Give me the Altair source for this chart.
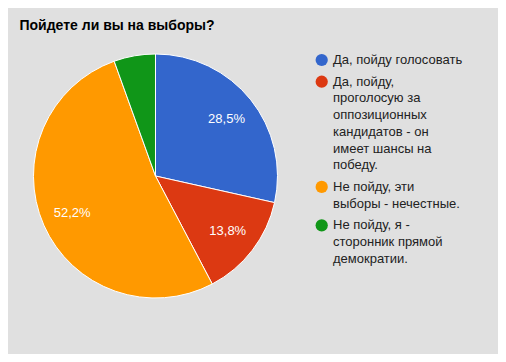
import altair as alt
import pandas as pd

title_text = "Пойдете ли вы на выборы?"
categories = [
    "Да, пойду голосовать",
    "Да, пойду, проголосую за оппозиционных кандидатов - он имеет шансы на победу.",
    "Не пойду, эти выборы - нечестные.",
    "Не пойду, я - сторонник прямой демократии.",
]
legend_lines = [
    ["Да, пойду голосовать"],
    ["Да, пойду,", "проголосую за", "оппозиционных", "кандидатов - он", "имеет шансы на", "победу."],
    ["Не пойду, эти", "выборы - нечестные."],
    ["Не пойду, я -", "сторонник прямой", "демократии."],
]
values = [28.5, 13.8, 52.2, 5.5]
slice_labels = ["28,5%", "13,8%", "52,2%", ""]
colors = ["#3366cc", "#dc3912", "#ff9900", "#109618"]

FONT = "Arial, Liberation Sans"
W, H = 490, 346
CX, CY, R = 147.5, 168, 122
LABEL_R = 91
LINE_GAP = 0.3  # extra gap between legend items, in line units

pie_df = pd.DataFrame({
    "idx": list(range(len(categories))),
    "cat": categories,
    "value": values,
    "label": slice_labels,
})

# legend rows: one row per text line, position in "line units"
rows = []
u = 0.0
for i, lines in enumerate(legend_lines):
    for j, line in enumerate(lines):
        rows.append({"idx": i, "cat": categories[i], "line": line, "u": u, "first": j == 0})
        u += 1
    u += LINE_GAP
leg_df = pd.DataFrame(rows)

color_scale = alt.Scale(domain=categories, range=colors)

base = alt.Chart(pie_df).encode(
    theta=alt.Theta("value:Q", stack=True),
    order=alt.Order("idx:Q", sort="ascending"),
)

arcs = base.mark_arc(stroke="white", strokeWidth=1).encode(
    color=alt.Color("cat:N", scale=color_scale, legend=None),
    x=alt.value(CX),
    y=alt.value(CY),
    radius=alt.value(R),
)

labels = base.mark_text(
    radius=LABEL_R, font=FONT, fontSize=13, color="white", align="center", baseline="middle"
).encode(
    text="label:N",
    x=alt.value(CX),
    y=alt.value(CY),
)

ly = alt.Y("u:Q", scale=alt.Scale(domain=[0, 10], range=[52, 52 + 10 * 16.7]), axis=None)

leg_sym = alt.Chart(leg_df).transform_filter("datum.first").mark_point(
    shape="circle", filled=True, size=150, opacity=1
).encode(
    x=alt.value(313.7),
    y=ly,
    color=alt.Color("cat:N", scale=color_scale, legend=None),
)

leg_txt = alt.Chart(leg_df).mark_text(
    font=FONT, fontSize=13, color="#222222", align="left", baseline="middle"
).encode(
    x=alt.value(325),
    y=ly,
    text="line:N",
)

title_df = pd.DataFrame({"t": [title_text]})
title = alt.Chart(title_df).mark_text(
    font=FONT, fontSize=14, fontWeight="bold", color="#000000", align="left", baseline="alphabetic"
).encode(
    x=alt.value(11.5),
    y=alt.value(22),
    text="t:N",
)

chart = alt.layer(arcs, labels, leg_sym, leg_txt, title).resolve_scale(
    color="shared"
).properties(
    width=W, height=H, padding=0, autosize=alt.AutoSizeParams(type="none"),
    background="#e0e0e0",
).configure_view(stroke=None)

chart.save("out.html", embed_options={"renderer": "svg", "actions": False})
